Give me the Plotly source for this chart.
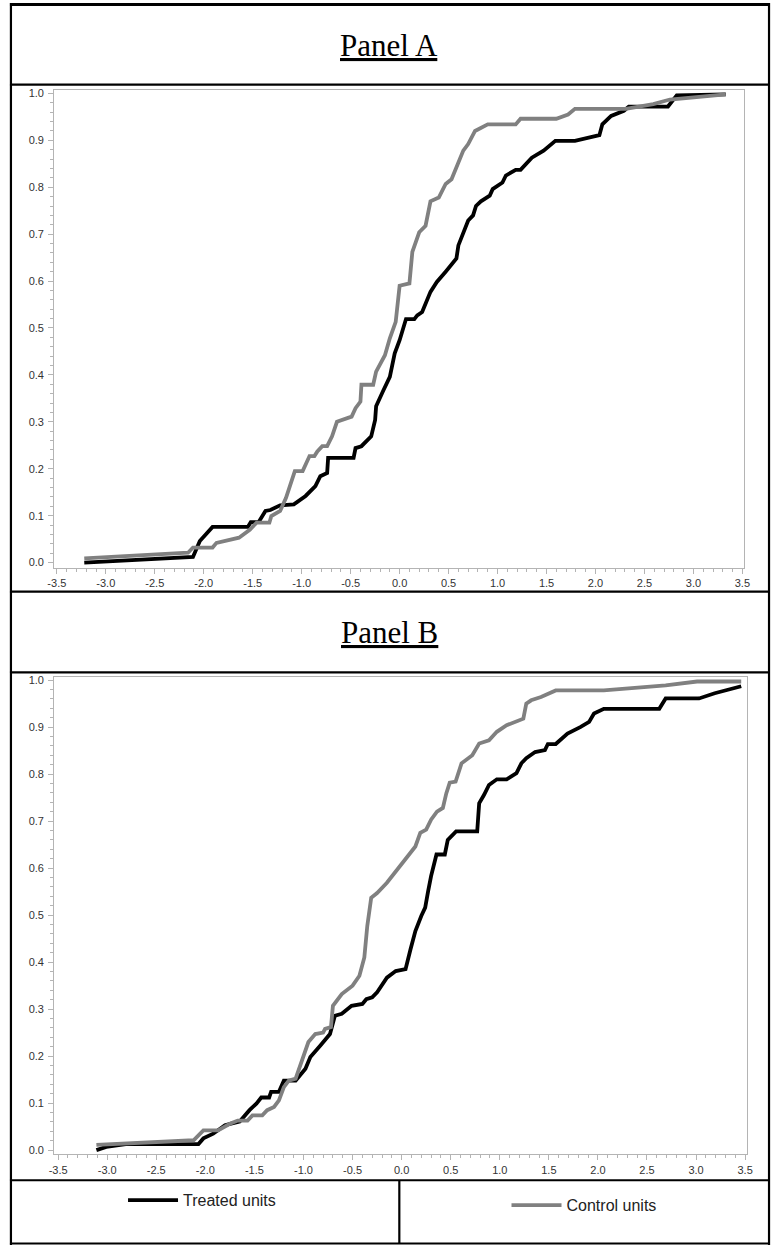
import plotly.graph_objects as go

# ---------------- data ----------------
a_treat_x = [-3.22, -2.11, -2.04, -1.91, -1.55, -1.52, -1.44, -1.37, -1.32, -1.22,
             -1.08, -0.96, -0.86, -0.81, -0.74, -0.73, -0.47, -0.45, -0.39, -0.29,
             -0.25, -0.24, -0.17, -0.10, -0.05, 0.00, 0.065, 0.15, 0.18, 0.23,
             0.315, 0.38, 0.47, 0.53, 0.58, 0.60, 0.67, 0.70, 0.75, 0.78,
             0.83, 0.92, 0.95, 1.05, 1.085, 1.185, 1.235, 1.35, 1.47, 1.59,
             1.79, 2.04, 2.07, 2.16, 2.29, 2.34, 2.74, 2.83, 3.33]
a_treat_y = [0.000, 0.012, 0.046, 0.076, 0.076, 0.086, 0.086, 0.110, 0.112, 0.122,
             0.124, 0.142, 0.163, 0.184, 0.191, 0.223, 0.223, 0.244, 0.248, 0.269,
             0.304, 0.333, 0.365, 0.396, 0.446, 0.474, 0.519, 0.519, 0.527, 0.534,
             0.577, 0.598, 0.620, 0.637, 0.648, 0.676, 0.711, 0.729, 0.740, 0.760,
             0.770, 0.782, 0.796, 0.810, 0.825, 0.837, 0.837, 0.863, 0.878, 0.899,
             0.899, 0.911, 0.934, 0.952, 0.963, 0.972, 0.972, 0.996, 0.998]

a_ctrl_x = [-3.22, -2.16, -2.11, -1.91, -1.87, -1.64, -1.53, -1.46, -1.33, -1.31,
            -1.22, -1.16, -1.07, -0.99, -0.92, -0.87, -0.84, -0.79, -0.74, -0.69,
            -0.64, -0.49, -0.45, -0.40, -0.39, -0.27, -0.24, -0.19, -0.15, -0.10,
            -0.04, 0.00, 0.10, 0.13, 0.20, 0.265, 0.315, 0.40, 0.47, 0.53,
            0.60, 0.65, 0.70, 0.77, 0.90, 1.185, 1.235, 1.60, 1.72, 1.79,
            2.31, 2.59, 2.76, 3.33]
a_ctrl_y = [0.009, 0.021, 0.032, 0.032, 0.042, 0.053, 0.070, 0.085, 0.085, 0.099,
            0.110, 0.138, 0.195, 0.195, 0.227, 0.227, 0.237, 0.248, 0.248, 0.269,
            0.300, 0.311, 0.329, 0.343, 0.379, 0.379, 0.407, 0.425, 0.442, 0.478,
            0.513, 0.590, 0.595, 0.662, 0.704, 0.718, 0.770, 0.778, 0.807, 0.817,
            0.853, 0.878, 0.892, 0.920, 0.934, 0.934, 0.946, 0.946, 0.955, 0.967,
            0.967, 0.977, 0.987, 0.998]

b_treat_x = [-3.11, -3.01, -2.81, -2.07, -2.02, -1.92, -1.80, -1.65, -1.55, -1.48,
             -1.43, -1.35, -1.33, -1.25, -1.20, -1.08, -0.98, -0.93, -0.83, -0.73,
             -0.68, -0.61, -0.51, -0.40, -0.36, -0.30, -0.25, -0.15, -0.06, 0.04,
             0.09, 0.14, 0.20, 0.24, 0.27, 0.30, 0.355, 0.44, 0.47, 0.555,
             0.77, 0.79, 0.84, 0.89, 0.97, 1.07, 1.17, 1.22, 1.27, 1.36,
             1.46, 1.49, 1.57, 1.69, 1.82, 1.91, 1.96, 2.06, 2.625, 2.69,
             3.03, 3.19, 3.46]
b_treat_y = [0.000, 0.007, 0.013, 0.013, 0.025, 0.035, 0.053, 0.061, 0.085, 0.099,
             0.112, 0.112, 0.124, 0.124, 0.148, 0.148, 0.173, 0.198, 0.222, 0.247,
             0.286, 0.290, 0.307, 0.311, 0.321, 0.325, 0.336, 0.367, 0.381, 0.385,
             0.427, 0.466, 0.498, 0.516, 0.551, 0.583, 0.629, 0.629, 0.660, 0.678,
             0.678, 0.738, 0.756, 0.777, 0.789, 0.789, 0.802, 0.823, 0.834, 0.847,
             0.851, 0.864, 0.864, 0.886, 0.900, 0.911, 0.929, 0.939, 0.939, 0.961,
             0.961, 0.972, 0.987]

b_ctrl_x = [-3.11, -2.12, -2.02, -1.87, -1.75, -1.67, -1.57, -1.52, -1.42, -1.37,
            -1.30, -1.25, -1.20, -1.15, -1.08, -1.03, -0.95, -0.88, -0.80, -0.78,
            -0.72, -0.70, -0.61, -0.50, -0.43, -0.38, -0.35, -0.31, -0.25, -0.15,
            -0.01, 0.05, 0.14, 0.19, 0.25, 0.30, 0.36, 0.42, 0.455, 0.49,
            0.55, 0.61, 0.72, 0.79, 0.89, 0.97, 1.07, 1.17, 1.24, 1.27,
            1.32, 1.42, 1.57, 2.06, 2.69, 3.01, 3.46]
b_ctrl_y = [0.011, 0.021, 0.042, 0.042, 0.056, 0.063, 0.063, 0.074, 0.074, 0.085,
            0.092, 0.106, 0.134, 0.148, 0.152, 0.184, 0.230, 0.247, 0.250, 0.258,
            0.262, 0.307, 0.332, 0.350, 0.371, 0.410, 0.477, 0.537, 0.547, 0.569,
            0.604, 0.622, 0.646, 0.675, 0.682, 0.703, 0.720, 0.728, 0.759, 0.782,
            0.784, 0.823, 0.840, 0.865, 0.872, 0.890, 0.904, 0.911, 0.918, 0.950,
            0.957, 0.964, 0.978, 0.978, 0.989, 0.997, 0.997]

x_tick_vals = [-3.5, -3.0, -2.5, -2.0, -1.5, -1.0, -0.5, 0.0, 0.5, 1.0, 1.5, 2.0, 2.5, 3.0, 3.5]
x_tick_text = ["-3.5", "-3.0", "-2.5", "-2.0", "-1.5", "-1.0", "-0.5", "0.0",
               "0.5", "1.0", "1.5", "2.0", "2.5", "3.0", "3.5"]
y_tick_vals = [0.0, 0.1, 0.2, 0.3, 0.4, 0.5, 0.6, 0.7, 0.8, 0.9, 1.0]
y_tick_text = ["0.0", "0.1", "0.2", "0.3", "0.4", "0.5", "0.6", "0.7", "0.8", "0.9", "1.0"]

panel_titles = ["Panel A", "Panel B"]
series_names = ["Treated units", "Control units"]

# ---------------- layout helpers ----------------
W, H = 777, 1247
def px(x):
    return x / W
def py(y):
    return 1 - y / H

BLACK = "#000000"
GREY = "#808080"
FRAME = "#b4b4b4"
SANS = "Liberation Sans, Arial, sans-serif"
SERIF = "Liberation Serif, Times New Roman, serif"

fig = go.Figure()

lw = 3.8
fig.add_trace(go.Scatter(x=a_treat_x, y=a_treat_y, mode="lines", xaxis="x", yaxis="y",
                         line=dict(color=BLACK, width=lw), showlegend=False,
                         name=series_names[0]))
fig.add_trace(go.Scatter(x=a_ctrl_x, y=a_ctrl_y, mode="lines", xaxis="x", yaxis="y",
                         line=dict(color=GREY, width=lw), showlegend=False,
                         name=series_names[1]))
fig.add_trace(go.Scatter(x=b_treat_x, y=b_treat_y, mode="lines", xaxis="x2", yaxis="y2",
                         line=dict(color=BLACK, width=lw), showlegend=True,
                         name=series_names[0], legend="legend"))
fig.add_trace(go.Scatter(x=b_ctrl_x, y=b_ctrl_y, mode="lines", xaxis="x2", yaxis="y2",
                         line=dict(color=GREY, width=lw), showlegend=True,
                         name=series_names[1], legend="legend2"))

def xaxis_style(domain, rng, anchor):
    return dict(domain=domain, range=rng, anchor=anchor,
                showline=True, mirror=True, linecolor=FRAME, linewidth=1,
                showgrid=False, zeroline=False,
                ticks="outside", ticklen=5, tickcolor=FRAME, tickwidth=1,
                tickvals=x_tick_vals, ticktext=x_tick_text,
                tickfont=dict(family=SANS, size=11, color="#333333"),
                minor=dict(dtick=0.1, tick0=0, ticks="outside", ticklen=3,
                           tickcolor=FRAME, tickwidth=1, showgrid=False),
                fixedrange=True)

def yaxis_style(domain, rng, anchor):
    return dict(domain=domain, range=rng, anchor=anchor,
                showline=True, mirror=True, linecolor=FRAME, linewidth=1,
                showgrid=False, zeroline=False,
                ticks="outside", ticklen=5, tickcolor=FRAME, tickwidth=1,
                tickvals=y_tick_vals, ticktext=y_tick_text,
                tickfont=dict(family=SANS, size=11, color="#333333"),
                ticklabelstandoff=2,
                minor=dict(dtick=0.02, tick0=0, ticks="outside", ticklen=3,
                           tickcolor=FRAME, tickwidth=1, showgrid=False),
                fixedrange=True)

# Panel A plot region (pixels): x 48..750, y 87..567
fig.update_layout(
    xaxis=xaxis_style([px(48), px(750)], [-3.527, 3.521], "y"),
    yaxis=yaxis_style([py(567), py(87)], [-0.011, 1.008], "x"),
    xaxis2=xaxis_style([px(48), px(753)], [-3.54, 3.523], "y2"),
    yaxis2=yaxis_style([py(1156), py(677)], [-0.009, 1.006], "x2"),
)

# table lines
shapes = []
def hline(y, x0=3, x1=775, w=2.2):
    shapes.append(dict(type="line", xref="paper", yref="paper",
                       x0=px(x0), x1=px(x1), y0=py(y), y1=py(y),
                       line=dict(color=BLACK, width=w)))
def vline(x, y0, y1, w=2.2):
    shapes.append(dict(type="line", xref="paper", yref="paper",
                       x0=px(x), x1=px(x), y0=py(y0), y1=py(y1),
                       line=dict(color=BLACK, width=w)))
hline(1.5, w=3)
hline(82)
hline(591)
hline(672)
hline(1182)
hline(1245.5)
vline(4, 0, 1247)
vline(775, 0, 1247)
vline(399, 1182, 1246)

annotations = [
    dict(text="<u>" + panel_titles[0] + "</u>", xref="paper", yref="paper",
         x=px(389), y=py(43), xanchor="center", yanchor="middle", showarrow=False,
         font=dict(family=SERIF, size=31, color=BLACK)),
    dict(text="<u>" + panel_titles[1] + "</u>", xref="paper", yref="paper",
         x=px(389), y=py(632), xanchor="center", yanchor="middle", showarrow=False,
         font=dict(family=SERIF, size=31, color=BLACK)),
]

legend_common = dict(bgcolor="rgba(0,0,0,0)", borderwidth=0, orientation="h",
                     font=dict(family=SANS, size=16, color="#222222"),
                     itemwidth=50, xanchor="left", yanchor="middle",
                     xref="paper", yref="paper")

fig.update_layout(
    width=W, height=H, margin=dict(l=0, r=0, t=0, b=0, pad=0),
    paper_bgcolor="white", plot_bgcolor="white",
    shapes=shapes, annotations=annotations,
    legend=dict(x=px(118), y=py(1202), **legend_common),
    legend2=dict(x=px(508), y=py(1207), **legend_common),
)

fig.write_html("out.html", config={"displayModeBar": False},
               post_script="document.body.style.margin='0';")
